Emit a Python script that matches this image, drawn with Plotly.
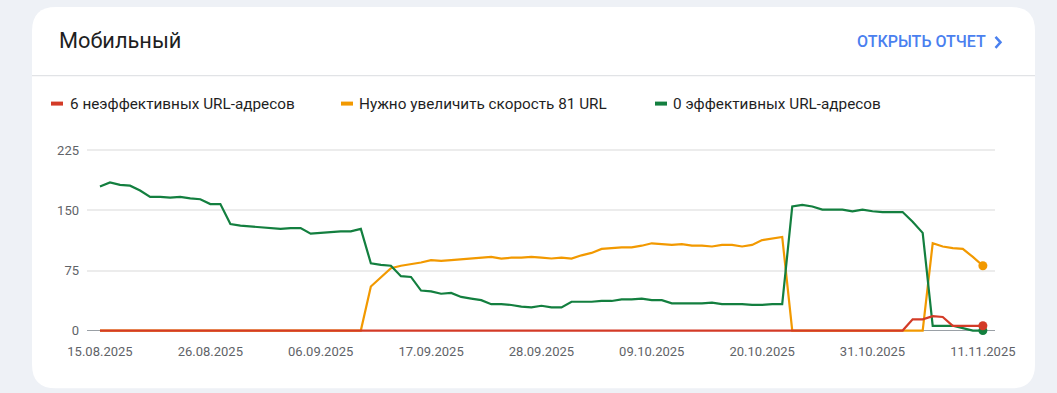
import pandas as pd
import plotly.graph_objects as go

start_date = "2025-08-15"
n_days = 89

poor = [0] * 81 + [14, 14, 18, 17, 6, 6, 6, 6]
needs_improvement = ([0] * 27 +
    [55, 67, 78, 81, 83, 85, 88, 87, 88, 89, 90, 91, 92, 90, 91, 91, 92, 91, 90, 91,
     90, 94, 97, 102, 103, 104, 104, 106, 109, 108, 107, 108, 106, 106, 105, 107, 107,
     105, 107, 113, 115, 117] +
    [0] * 14 +
    [109, 105, 103, 102, 92, 81])
good = [180, 185, 182, 181, 175, 167, 167, 166, 167, 165, 164, 158, 158, 133, 131, 130,
        129, 128, 127, 128, 128, 121, 122, 123, 124, 124, 127, 84, 82, 81, 68, 67, 50,
        49, 46, 47, 42, 40, 38, 33, 33, 32, 30, 29, 31, 29, 29, 36, 36, 36, 37, 37, 39,
        39, 40, 38, 38, 34, 34, 34, 34, 35, 33, 33, 33, 32, 32, 33, 33, 155, 157, 155,
        151, 151, 151, 149, 151, 149, 148, 148, 148, 136, 122, 6, 6, 6, 3, 0, 0]

series_names = ["6 неэффективных URL-адресов", "Нужно увеличить скорость 81 URL",
                "0 эффективных URL-адресов"]
series_colors = ["#d33b27", "#f29900", "#137f3f"]
y_ticks = [0, 75, 150, 225]
title_text = "Мобильный"
link_text = "ОТКРЫТЬ ОТЧЕТ"

dates = pd.date_range(start_date, periods=n_days, freq="D")
x_ticks = dates[::11]

W, H = 1057, 393
L, R, T, B = 87, 995, 147.6, 333.4

def xp(px):
    return (px - L) / (R - L)

def yp(py):
    return (B - py) / (B - T)

fig = go.Figure()
order = [1, 2, 0]
series_vals = {0: poor, 1: needs_improvement, 2: good}
for idx in order:
    vals = series_vals[idx]
    fig.add_trace(go.Scatter(
        x=dates, y=vals, mode="lines", name=series_names[idx],
        line=dict(color=series_colors[idx], width=2.2),
        showlegend=False, hoverinfo="skip"))
for idx in order:
    vals = series_vals[idx]
    fig.add_trace(go.Scatter(
        x=[dates[-1]], y=[vals[-1]], mode="markers",
        marker=dict(color=series_colors[idx], size=9),
        showlegend=False, hoverinfo="skip", cliponaxis=False))

shapes = []
x0, x1, y0, y1, r = 32, 1035, 6, 389, 24
def P(px, py):
    return f"{xp(px):.5f},{yp(py):.5f}"
path = (f"M {P(x0 + r, y0)} L {P(x1 - r, y0)} Q {P(x1, y0)} {P(x1, y0 + r)} "
        f"L {P(x1, y1 - r)} Q {P(x1, y1)} {P(x1 - r, y1)} L {P(x0 + r, y1)} "
        f"Q {P(x0, y1)} {P(x0, y1 - r)} L {P(x0, y0 + r)} Q {P(x0, y0)} {P(x0 + r, y0)} Z")
shapes.append(dict(type="path", xref="paper", yref="paper", path=path,
                   fillcolor="white", line=dict(width=0), layer="below"))
shapes.append(dict(type="line", xref="paper", yref="paper", x0=xp(32), x1=xp(1035),
                   y0=yp(75), y1=yp(75), line=dict(color="#dadce0", width=1), layer="below"))
shapes.append(dict(type="path", xref="paper", yref="paper",
                   path=f"M {P(995.5, 36)} L {P(1000.5, 41.5)} L {P(995.5, 47)}",
                   line=dict(color="#4a80ef", width=2.5)))
chip_x = [(51, 63), (341, 353), (655, 667)]
for (a, b), c in zip(chip_x, series_colors):
    shapes.append(dict(type="line", xref="paper", yref="paper", x0=xp(a), x1=xp(b),
                       y0=yp(103), y1=yp(103), line=dict(color=c, width=4)))

annotations = [
    dict(text=title_text, x=xp(56.5), y=yp(40), xref="paper", yref="paper",
         xanchor="left", yanchor="middle", showarrow=False,
         font=dict(family="Roboto", size=21.8, color="#1f1f1f")),
    dict(text=link_text, x=xp(988), y=yp(41), xref="paper", yref="paper",
         xanchor="right", yanchor="middle", showarrow=False,
         font=dict(family="Roboto", size=16, color="#4a80ef", weight=500)),
]
text_x = [68, 357, 671]
for tx, name in zip(text_x, series_names):
    annotations.append(dict(text=name, x=xp(tx), y=yp(103), xref="paper", yref="paper",
                            xanchor="left", yanchor="middle", showarrow=False,
                            font=dict(family="Roboto", size=15.3, color="#1f1f1f")))

fig.update_layout(
    width=W, height=H,
    margin=dict(l=L, r=W - R, t=T, b=H - B, pad=0),
    paper_bgcolor="#eef1f6", plot_bgcolor="white",
    font=dict(family="Roboto", color="#5f6368", size=13),
    shapes=shapes, annotations=annotations,
    xaxis=dict(range=[dates[0] - pd.Timedelta(hours=31), dates[-1] + pd.Timedelta(hours=29)],
               tickvals=x_ticks, tickformat="%d.%m.%Y", showgrid=False, zeroline=False,
               showline=False, ticks="", ticklabelstandoff=9,
               tickfont=dict(size=13, color="#5f6368")),
    yaxis=dict(range=[-3, 228], tickvals=y_ticks, showgrid=True, gridcolor="#ececec",
               gridwidth=2, zeroline=True, zerolinecolor="#9aa0a6", zerolinewidth=1,
               showline=False, ticks="", ticklabelstandoff=7,
               tickfont=dict(size=13, color="#5f6368")),
)

fig.write_html("out.html", config={"displayModeBar": False},
               post_script="document.body.style.margin='0';document.body.style.overflow='hidden';")
